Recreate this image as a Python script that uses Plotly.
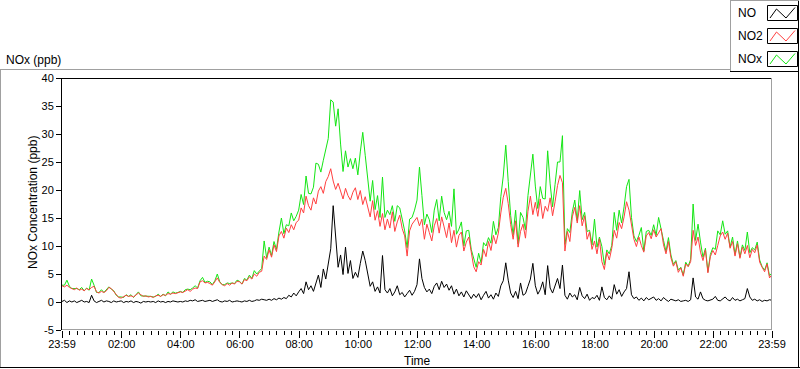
import plotly.graph_objects as go
import pandas as pd

# ---------------- data (5-minute samples, 23:59 -> 23:59) ----------------
no_values = [
    0.1, 0.3, -0.1, 0.2, 0.0, 0.2, -0.1, 0.1, 0.3, 0.0, 0.1, -0.1,
    1.2, 0.2, -0.1, 0.1, 0.3, 0.0, 0.2, 0.1, -0.1, 0.2, 0.0, 0.1,
    0.2, -0.1, 0.1, 0.0, 0.2, -0.1, 0.1, 0.0, -0.2, 0.1, 0.0, 0.1,
    0.0, 0.1, -0.1, 0.2, 0.0, 0.1, -0.1, 0.1, 0.0, 0.2, 0.1, 0.0,
    0.1, 0.0, 0.2, 0.1, 0.3, 0.2, 0.4, 0.1, 0.2, 0.3, 0.1, 0.2,
    0.3, 0.1, 0.2, 0.4, 0.1, 0.0, 0.2, 0.1, 0.3, 0.0, 0.1, 0.2,
    0.1, 0.0, 0.2, 0.1, 0.3, 0.1, 0.2, 0.4, 0.3, 0.5, 0.4, 0.3,
    0.5, 0.3, 0.6, 0.4, 0.7, 0.5, 0.8, 0.6, 1.2, 0.9, 1.6, 1.1,
    1.8, 2.4, 1.5, 3.6, 2.2, 2.9, 1.9, 3.3, 4.8, 2.6, 5.9, 4.1,
    6.8, 9.5, 17.2, 11.3, 6.2, 8.4, 4.9, 9.8, 5.1, 7.4, 4.2, 5.3,
    4.4, 6.9, 9.1, 7.4, 5.2, 2.8, 3.6, 1.9, 2.7, 1.6, 8.3, 2.2,
    1.6, 2.4, 1.1, 1.8, 2.9, 1.3, 1.7, 0.9, 1.5, 2.1, 1.2, 1.9,
    3.1, 7.7, 4.2, 2.6, 1.8, 2.3, 1.5, 2.8, 3.4, 2.2, 3.7, 2.6,
    3.2, 2.1, 2.9, 1.4, 2.3, 1.1, 1.8, 0.9, 2.0, 1.2, 0.6, 1.4,
    0.8, 1.5, 0.4, 1.2, 1.9, 0.7, 1.3, 0.5, 1.6, 1.0, 2.9, 3.8,
    7.0, 3.9, 1.6, 0.8, 1.9, 0.6, 3.4, 1.2, 1.5, 2.8, 4.1, 6.9,
    2.9, 1.4, 2.2, 3.6, 1.3, 6.5, 2.5, 1.6, 3.1, 4.2, 2.4, 6.6,
    1.2, 0.5, 1.6, 0.9, 1.3, 0.4, 2.6, 1.1, 0.6, 1.4, 0.3, 0.8,
    0.6, 1.2, 0.3, 2.7, 0.8, 0.4, 1.1, 0.5, 3.1, 1.4, 2.2, 1.0,
    1.8, 2.4, 5.4, 1.3, 0.6, 0.9, 0.3, 0.7, 0.2, 0.8, 0.4, 0.6,
    0.9, 0.3, 0.6, 0.2, 0.8, 0.4, 0.1, 0.5, 0.3, 0.2, 0.4, 0.1,
    0.2, 0.3, 0.1, 0.4, 4.3, 0.9, 0.5, 1.8, 0.6, 0.3, 0.2, 0.4,
    0.5, 1.0, 0.3, 0.2, 0.6, 0.9, 0.4, 0.2, 0.8, 0.3, 0.5, 0.2,
    0.4, 0.6, 2.4, 0.9, 0.3, 0.5, 0.2, 0.4, 0.1, 0.3, 0.2, 0.4,
    0.3,
]

no2_values = [
    2.9, 2.7, 3.0, 2.6, 2.4, 2.2, 2.5, 2.1, 2.3, 2.0, 2.4, 2.2,
    2.6, 2.8, 1.8, 1.6, 1.9, 1.7, 2.0, 2.6, 2.4, 1.8, 1.2, 0.8,
    0.7, 0.9, 1.2, 1.0, 1.1, 0.9, 1.2, 1.6, 1.3, 1.0, 1.1, 0.9,
    1.0, 0.8, 1.1, 1.2, 1.0, 1.3, 1.2, 1.5, 1.4, 1.6, 1.5, 1.7,
    1.8, 1.7, 2.0, 2.2, 1.9, 2.3, 2.5, 2.4, 3.6, 3.8, 3.4, 3.5,
    3.3, 3.0, 3.6, 4.3, 3.5, 3.1, 2.9, 3.3, 3.0, 3.4, 3.2, 3.7,
    3.6, 3.2, 4.0, 3.8, 4.5, 4.1, 5.0, 4.6, 5.3, 5.5, 8.2, 7.6,
    9.3, 8.0, 10.2, 9.0, 11.8, 12.6, 11.4, 13.2, 12.4, 13.8, 12.9, 14.2,
    14.6, 16.8, 15.9, 18.9, 17.2, 16.4, 18.6, 17.5, 19.8, 20.6, 19.4, 21.5,
    22.4, 23.8, 21.6, 20.1, 21.2, 19.8, 18.4, 20.3, 19.0, 18.2, 19.6, 20.4,
    18.3, 19.9, 17.4, 18.8, 16.9, 15.2, 18.1, 14.6, 16.3, 13.5, 15.8, 12.9,
    14.8, 13.2, 16.1, 12.6, 14.3, 15.5, 13.1, 11.8, 8.2, 12.7, 13.9, 14.5,
    15.1, 13.6, 14.8, 11.2, 13.9, 12.4, 10.9, 13.6, 14.9, 12.3, 15.2, 13.4,
    11.5, 14.1, 10.6, 12.8, 9.8, 11.9, 12.5, 9.1, 10.7, 11.6, 8.8, 6.3,
    5.4, 7.2, 6.6, 9.4, 8.1, 10.8, 9.2, 11.9, 10.4, 12.3, 15.9, 18.7,
    20.3, 17.6, 13.8, 11.2, 14.5, 9.8, 12.6, 13.9, 11.4, 16.2, 18.9, 15.6,
    17.8, 15.3, 18.4, 14.9, 17.1, 16.2, 18.6, 15.4, 17.9, 20.8, 22.6, 21.3,
    9.1, 12.6, 10.8, 15.2, 16.9, 14.1, 17.2, 13.6, 15.4, 11.2, 12.5, 9.4,
    10.9, 8.6, 11.3, 7.2, 5.8, 8.9, 7.5, 9.6, 12.8, 11.4, 14.2, 13.1,
    15.2, 17.9, 16.4, 13.8, 11.2, 9.9, 11.6, 10.1, 8.9, 11.8, 12.4, 11.3,
    12.9, 11.6, 12.4, 13.1, 10.2, 8.6, 10.8, 7.9, 6.4, 7.2, 5.3, 6.1,
    4.6, 6.8, 6.3, 7.2, 12.8, 10.1, 11.6, 8.9, 7.4, 9.3, 5.2, 8.1,
    9.2, 8.4, 10.1, 11.8, 12.5, 11.2, 12.3, 9.6, 10.8, 8.2, 10.4, 7.8,
    9.8, 8.6, 10.1, 7.9, 9.4, 8.8, 10.2, 7.1, 6.2, 5.4, 6.8, 4.3,
    4.9,
]

nox_values = [
    3.0, 3.0, 3.9, 2.8, 2.4, 2.4, 2.4, 2.2, 2.6, 2.0, 2.5, 2.1,
    4.1, 3.0, 1.7, 1.7, 2.2, 1.7, 2.2, 2.7, 2.3, 2.0, 1.2, 0.9,
    0.9, 0.8, 1.3, 1.0, 1.3, 0.8, 1.3, 1.8, 1.1, 1.1, 1.1, 1.0,
    1.0, 0.9, 1.0, 1.4, 1.0, 1.4, 1.1, 1.8, 1.4, 1.8, 1.6, 1.7,
    1.9, 1.7, 2.2, 2.3, 2.2, 2.5, 2.9, 2.5, 3.8, 4.4, 3.5, 3.7,
    3.6, 3.1, 3.8, 5.0, 3.6, 3.1, 3.1, 3.4, 3.3, 3.4, 3.3, 3.9,
    3.7, 3.2, 4.2, 3.9, 4.8, 4.2, 5.6, 5.0, 5.6, 6.0, 10.9, 7.9,
    9.8, 8.3, 10.8, 9.4, 12.5, 15.0, 12.2, 13.8, 13.6, 15.9, 14.5, 15.3,
    16.4, 19.2, 17.4, 22.5, 19.4, 19.3, 20.5, 24.8, 24.6, 23.2, 25.3, 27.6,
    29.2, 36.1, 35.7, 31.4, 34.5, 28.2, 23.3, 27.0, 24.1, 25.6, 23.8, 25.7,
    22.7, 26.8, 30.3, 26.2, 22.1, 18.0, 21.7, 16.5, 19.0, 15.1, 22.3, 15.1,
    16.4, 15.6, 17.2, 14.4, 17.2, 16.8, 14.8, 12.7, 9.7, 14.8, 15.1, 16.4,
    18.2, 24.1, 19.0, 13.8, 15.7, 14.7, 12.4, 16.4, 18.3, 14.5, 18.9, 16.0,
    14.7, 16.2, 13.5, 20.2, 12.1, 13.0, 14.3, 10.0, 12.7, 12.8, 9.4, 7.7,
    6.2, 8.7, 7.0, 10.6, 10.0, 11.5, 10.5, 14.4, 12.0, 13.3, 18.8, 22.5,
    28.0, 21.5, 15.4, 12.0, 16.4, 10.4, 16.0, 15.1, 12.9, 19.0, 23.0, 26.4,
    20.7, 16.7, 20.6, 18.5, 18.4, 27.0, 21.1, 17.0, 21.0, 25.0, 25.0, 29.7,
    10.3, 13.1, 12.4, 16.1, 18.2, 14.5, 19.9, 14.7, 16.0, 12.6, 12.8, 10.2,
    14.8, 9.8, 11.6, 9.9, 6.6, 9.3, 8.6, 10.1, 16.0, 12.8, 16.4, 14.1,
    17.0, 20.6, 21.9, 15.1, 11.8, 10.8, 11.9, 13.3, 9.1, 12.6, 12.8, 11.9,
    13.8, 11.9, 15.1, 13.3, 11.0, 9.0, 11.5, 8.4, 6.7, 7.4, 5.7, 6.2,
    4.8, 7.1, 6.4, 7.6, 17.5, 11.0, 13.9, 10.7, 8.0, 9.6, 5.4, 8.5,
    9.7, 9.4, 12.7, 12.0, 14.5, 12.1, 12.7, 9.8, 11.6, 8.5, 10.9, 8.0,
    10.2, 9.2, 12.5, 8.8, 9.7, 9.3, 10.7, 7.5, 6.3, 5.7, 7.0, 4.7,
    5.2,
]

series_names = ["NO", "NO2", "NOx"]
series_colors = ["#000000", "#ff4040", "#14e614"]

x_tick_labels = ["23:59", "02:00", "04:00", "06:00", "08:00", "10:00", "12:00",
                 "14:00", "16:00", "18:00", "20:00", "22:00", "23:59"]
y_tick_values = [-5, 0, 5, 10, 15, 20, 25, 30, 35, 40]

# ---------------- geometry helpers (pixel -> paper) ----------------
W, H = 800, 369
L, R, T, B = 62, 772, 78, 330


def fx(px):
    return (px - L) / (R - L)


def fy(py):
    return (B - py) / (B - T)


start = pd.Timestamp("2024-01-01 23:59")
end = pd.Timestamp("2024-01-02 23:59")
times = pd.date_range(start, periods=len(no2_values), freq="5min")

major_ticks = [start] + [pd.Timestamp("2024-01-02") + pd.Timedelta(hours=h) for h in range(2, 24, 2)] + [end]
minor_ticks = [pd.Timestamp("2024-01-02") + pd.Timedelta(minutes=15 * k) for k in range(1, 96)
               if (15 * k) % 120 != 0]

fig = go.Figure()
fig.add_trace(go.Scatter(x=times, y=nox_values, mode="lines", line=dict(color=series_colors[2], width=1),
                         name=series_names[2], showlegend=False, hoverinfo="skip"))
fig.add_trace(go.Scatter(x=times, y=no2_values, mode="lines", line=dict(color=series_colors[1], width=1),
                         name=series_names[1], showlegend=False, hoverinfo="skip"))
fig.add_trace(go.Scatter(x=times, y=no_values, mode="lines", line=dict(color=series_colors[0], width=1),
                         name=series_names[0], showlegend=False, hoverinfo="skip"))

FONT = "Liberation Sans, Arial, sans-serif"
GRAY = "#a0a0a0"

shapes = []


def hline(y, x0, x1, color, w=1):
    shapes.append(dict(type="line", xref="paper", yref="paper", x0=fx(x0), x1=fx(x1), y0=fy(y), y1=fy(y),
                       line=dict(color=color, width=w), layer="above"))


def vline(x, y0, y1, color, w=1):
    shapes.append(dict(type="line", xref="paper", yref="paper", x0=fx(x), x1=fx(x), y0=fy(y0), y1=fy(y1),
                       line=dict(color=color, width=w), layer="above"))


# outer frame
hline(69.5, 0, 730, GRAY)
vline(0.5, 69, 368, GRAY)
hline(367.5, 0, 800, "#000000")
vline(798.5, 0, 368, "#000000")
# legend box
hline(0.5, 730, 799, GRAY)
vline(730.5, 0, 72, GRAY)
hline(71.5, 730, 799, "#000000")
# plot frame
hline(78.5, 61.5, 772, "#000000")
vline(61.5, 78, 330, "#000000")
vline(771.5, 78, 330, GRAY)
hline(329.5, 62, 772, GRAY)

annotations = []
legend_rows = [13, 36, 59]
for name, color, yc in zip(series_names, series_colors, legend_rows):
    annotations.append(dict(text=name, xref="paper", yref="paper", x=fx(736), y=fy(yc), xanchor="left",
                            yanchor="middle", showarrow=False, font=dict(family=FONT, size=12, color="#000000")))
    y0 = yc - 7.5
    shapes.append(dict(type="rect", xref="paper", yref="paper", x0=fx(767.5), x1=fx(797.5), y0=fy(y0), y1=fy(y0 + 15),
                       line=dict(color="#000000", width=1), fillcolor="#ffffff", layer="above"))
    pts = [(770, y0 + 12.5), (776.5, y0 + 3.5), (786, y0 + 12.5), (795, y0 + 2)]
    path = "M " + " L ".join(f"{fx(a)},{fy(b)}" for a, b in pts)
    shapes.append(dict(type="path", xref="paper", yref="paper", path=path,
                       line=dict(color=color, width=1), layer="above"))

annotations.append(dict(text="NOx (ppb)", xref="paper", yref="paper", x=fx(4), y=fy(60), xanchor="left",
                        yanchor="middle", showarrow=False, font=dict(family=FONT, size=12, color="#000000")))
annotations.append(dict(text="NOx Concentration (ppb)", xref="paper", yref="paper", x=fx(33), y=fy(203),
                        xanchor="center", yanchor="middle", textangle=-90, showarrow=False,
                        font=dict(family=FONT, size=12, color="#000000")))
annotations.append(dict(text="Time", xref="paper", yref="paper", x=fx(417), y=fy(361), xanchor="center",
                        yanchor="middle", showarrow=False, font=dict(family=FONT, size=12, color="#000000")))

fig.update_layout(
    width=W, height=H,
    margin=dict(l=L, r=W - R, t=T, b=H - B, pad=0),
    paper_bgcolor="#ffffff", plot_bgcolor="#ffffff",
    showlegend=False,
    shapes=shapes,
    annotations=annotations,
    xaxis=dict(
        type="date", range=[start, end], tickmode="array", tickvals=major_ticks, ticktext=x_tick_labels,
        ticks="outside", ticklen=7, tickcolor="#000000", tickwidth=1, ticklabelstandoff=-3,
        showgrid=False, zeroline=False, showline=False,
        tickfont=dict(family=FONT, size=11, color="#000000"),
        minor=dict(tickmode="array", tickvals=minor_ticks, ticks="outside", ticklen=4,
                   tickcolor="#000000", tickwidth=1, showgrid=False),
    ),
    yaxis=dict(
        range=[-5, 40], tickmode="array", tickvals=y_tick_values, ticktext=[str(v) for v in y_tick_values],
        ticks="outside", ticklen=5, tickcolor="#000000", tickwidth=1,
        showgrid=False, zeroline=False, showline=False,
        tickfont=dict(family=FONT, size=11, color="#000000"),
    ),
)

fig.write_html("out.html", config={"displayModeBar": False, "staticPlot": True},
               post_script="document.body.style.margin='0';document.body.style.overflow='hidden';")
